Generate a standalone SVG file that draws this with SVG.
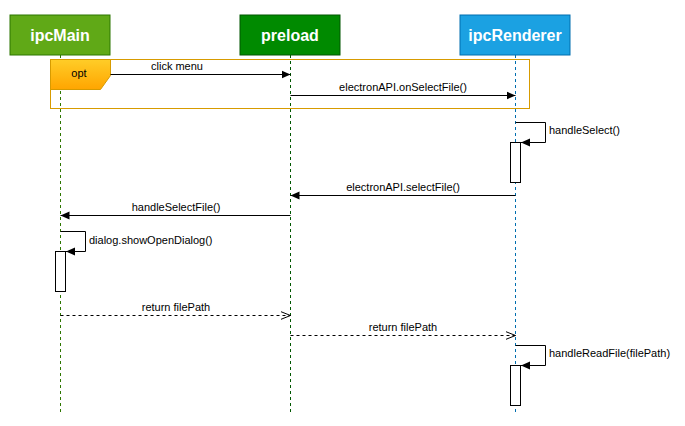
<svg xmlns="http://www.w3.org/2000/svg" width="685" height="426" viewBox="0 0 685 426">
<defs>
<style>
.t{font-family:"Comic Sans MS","Liberation Sans",sans-serif;font-size:11px;fill:#000}
.h{font-family:"Comic Sans MS","Liberation Sans",sans-serif;font-size:16px;font-weight:bold;fill:#fff;text-anchor:middle}
.msg{stroke:#000;stroke-width:1;fill:none}
.ret{stroke:#000;stroke-width:1;fill:none;stroke-dasharray:3 3}
.act{fill:#fff;stroke:#000;stroke-width:1}
.ll{stroke-width:1;stroke-dasharray:3 3;fill:none}
</style>
<marker id="ah" markerWidth="10" markerHeight="10" refX="9" refY="5" orient="auto" markerUnits="userSpaceOnUse">
<path d="M0,1 L9,5 L0,9 Z" fill="#000"/>
</marker>
<marker id="oa" markerWidth="12" markerHeight="10" refX="10" refY="5" orient="auto" markerUnits="userSpaceOnUse">
<path d="M0,1 L10,5 L0,9" fill="none" stroke="#000"/>
</marker>
<linearGradient id="og" x1="0" y1="0" x2="0" y2="1">
<stop offset="0" stop-color="#ffcd28"/>
<stop offset="1" stop-color="#ffa500"/>
</linearGradient>
</defs>
<rect width="685" height="426" fill="#fff"/>
<g id="lifelines">
<line class="ll" x1="60.5" y1="55" x2="60.5" y2="412" stroke="#2D7600"/>
<line class="ll" x1="290.5" y1="55" x2="290.5" y2="412" stroke="#005700"/>
<line class="ll" x1="515.5" y1="55" x2="515.5" y2="412" stroke="#006EAF"/>
</g>
<g id="ipcMain">
<rect x="10" y="15" width="100" height="40" fill="#60a917" stroke="#2D7600"/>
<text class="h" x="60" y="41">ipcMain</text>
</g>
<g id="preload">
<rect x="240" y="15" width="100" height="40" fill="#008a00" stroke="#005700"/>
<text class="h" x="290" y="41">preload</text>
</g>
<g id="ipcRenderer">
<rect x="460" y="15" width="110" height="40" fill="#1ba1e2" stroke="#006EAF"/>
<text class="h" x="515" y="41">ipcRenderer</text>
</g>
<g id="opt">
<rect x="50.5" y="59.5" width="479" height="49" fill="none" stroke="#d79b00"/>
<path d="M50.5,59.5 H110.5 V75.5 L100.5,89.5 H50.5 Z" fill="url(#og)" stroke="#d79b00"/>
<text class="t" x="79" y="77" text-anchor="middle" font-size="9">opt</text>
</g>
<g id="activations">
<rect class="act" x="510.5" y="142.5" width="10" height="40"/>
<rect class="act" x="55.5" y="251.5" width="10" height="40"/>
<rect class="act" x="510.5" y="365.5" width="10" height="40"/>
</g>
<g id="connectors">
<line class="msg" x1="110.5" y1="74.5" x2="290.5" y2="74.5" marker-end="url(#ah)"/>
<line class="msg" x1="290.5" y1="95.5" x2="515.5" y2="95.5" marker-end="url(#ah)"/>
<path class="msg" d="M515.5,122.5 H545.5 V142.5 H521" marker-end="url(#ah)"/>
<line class="msg" x1="515.5" y1="195.5" x2="290.5" y2="195.5" marker-end="url(#ah)"/>
<line class="msg" x1="290.5" y1="215.5" x2="60.5" y2="215.5" marker-end="url(#ah)"/>
<path class="msg" d="M60.5,231.5 H85.5 V251.5 H66" marker-end="url(#ah)"/>
<line class="ret" x1="60.5" y1="315.5" x2="290.5" y2="315.5" marker-end="url(#oa)"/>
<line class="ret" x1="290.5" y1="335.5" x2="515.5" y2="335.5" marker-end="url(#oa)"/>
<path class="msg" d="M515.5,345.5 H545.5 V365.5 H521" marker-end="url(#ah)"/>
</g>
<g id="labels">
<text class="t" x="177" y="70" text-anchor="middle">click menu</text>
<text class="t" x="403" y="91" text-anchor="middle">electronAPI.onSelectFile()</text>
<text class="t" x="549" y="134">handleSelect()</text>
<text class="t" x="403" y="191" text-anchor="middle">electronAPI.selectFile()</text>
<text class="t" x="176" y="211" text-anchor="middle">handleSelectFile()</text>
<text class="t" x="89" y="244">dialog.showOpenDialog()</text>
<text class="t" x="176" y="311" text-anchor="middle">return filePath</text>
<text class="t" x="403" y="331" text-anchor="middle">return filePath</text>
<text class="t" x="549" y="357">handleReadFile(filePath)</text>
</g>
</svg>
